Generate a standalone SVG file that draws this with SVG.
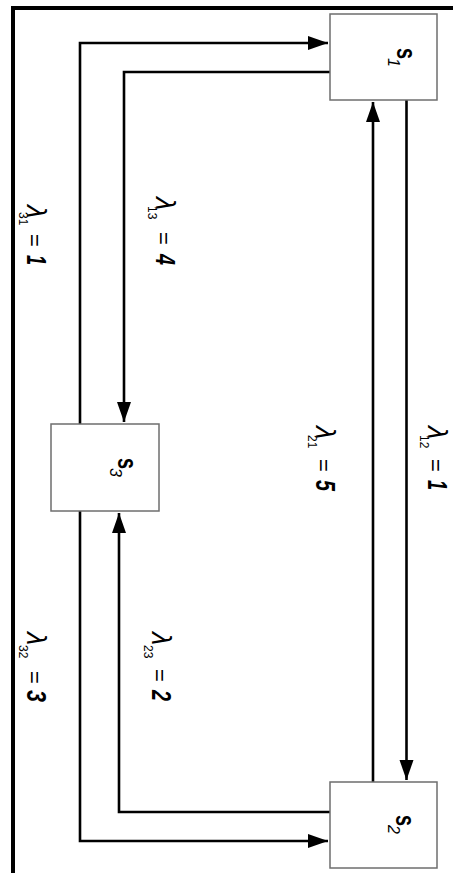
<svg xmlns="http://www.w3.org/2000/svg" width="453" height="873" viewBox="0 0 453 873">
<style>
.frame{stroke:#000;stroke-width:4;fill:none}
.box{fill:#fff;stroke:#6e6e6e;stroke-width:1.5}
.edge{fill:none;stroke:#000;stroke-width:2.6;stroke-linejoin:miter}
text{font-family:"Liberation Sans",Arial,sans-serif;fill:#000}
.lam{font-size:27px;font-style:italic;font-weight:normal}
.sub{font-size:12px}
.eq{font-size:22px}
.num{font-size:28px;font-weight:bold;font-style:italic}
.s{font-size:28px;font-weight:bold}
.si{font-size:16px;font-style:italic}
</style>
<defs>
<marker id="arr" markerUnits="userSpaceOnUse" markerWidth="22" markerHeight="16" refX="20" refY="7" orient="auto" viewBox="0 0 22 16">
<path d="M0,0 L20,7 L0,14 Z" fill="#000"/>
</marker>
</defs>
<rect width="453" height="873" fill="#fff"/>
<path class="frame" d="M13,873 V8 H453"/>
<g id="connectors">
<path class="edge" d="M80,424 V43 H328" marker-end="url(#arr)"/>
<path class="edge" d="M330,72 H124 V422" marker-end="url(#arr)"/>
<path class="edge" d="M373,782 V102" marker-end="url(#arr)"/>
<path class="edge" d="M406.5,100 V780" marker-end="url(#arr)"/>
<path class="edge" d="M330,812 H119 V513" marker-end="url(#arr)"/>
<path class="edge" d="M80,511 V841 H328" marker-end="url(#arr)"/>
</g>
<g id="labels">
<g id="l31" transform="translate(27,205) rotate(90)">
<text class="lam" x="0" y="0">λ</text><text class="sub" x="7" y="8">31</text><text class="eq" x="29" y="0">=</text><text class="num" x="50" y="0" textLength="10" lengthAdjust="spacingAndGlyphs">1</text>
</g>
<g id="l13" transform="translate(156,197) rotate(90)">
<text class="lam" x="0" y="0">λ</text><text class="sub" x="9" y="8">13</text><text class="eq" x="35" y="0">=</text><text class="num" x="57" y="0" textLength="11" lengthAdjust="spacingAndGlyphs">4</text>
</g>
<g id="l21" transform="translate(316,426) rotate(90)">
<text class="lam" x="0" y="0">λ</text><text class="sub" x="9" y="8">21</text><text class="eq" x="33" y="0">=</text><text class="num" x="54" y="0" textLength="11" lengthAdjust="spacingAndGlyphs">5</text>
</g>
<g id="l12" transform="translate(428,426) rotate(90)">
<text class="lam" x="0" y="0">λ</text><text class="sub" x="9" y="8">12</text><text class="eq" x="33" y="0">=</text><text class="num" x="54" y="0" textLength="10" lengthAdjust="spacingAndGlyphs">1</text>
</g>
<g id="l32" transform="translate(27,632) rotate(90)">
<text class="lam" x="0" y="0">λ</text><text class="sub" x="13" y="8">32</text><text class="eq" x="39" y="0">=</text><text class="num" x="58" y="0" textLength="12" lengthAdjust="spacingAndGlyphs">3</text>
</g>
<g id="l23" transform="translate(152,632) rotate(90)">
<text class="lam" x="0" y="0">λ</text><text class="sub" x="13" y="8">23</text><text class="eq" x="37" y="0">=</text><text class="num" x="58" y="0" textLength="11" lengthAdjust="spacingAndGlyphs">2</text>
</g>
</g>
<g id="S1">
<rect class="box" x="330" y="14" width="107" height="86"/>
<g transform="translate(397,48) rotate(90)"><text class="s" x="0" y="0" textLength="11" lengthAdjust="spacingAndGlyphs">s</text><text class="si" x="10" y="9">1</text></g>
</g>
<g id="S2">
<rect class="box" x="330" y="782" width="107" height="86"/>
<g transform="translate(396,815) rotate(90)"><text class="s" x="0" y="0" textLength="11" lengthAdjust="spacingAndGlyphs">s</text><text class="si" x="10" y="8">2</text></g>
</g>
<g id="S3">
<rect class="box" x="51" y="424" width="108" height="87"/>
<g transform="translate(118,458) rotate(90)"><text class="s" x="0" y="0" textLength="11" lengthAdjust="spacingAndGlyphs">s</text><text class="si" x="10" y="8">3</text></g>
</g>
</svg>
